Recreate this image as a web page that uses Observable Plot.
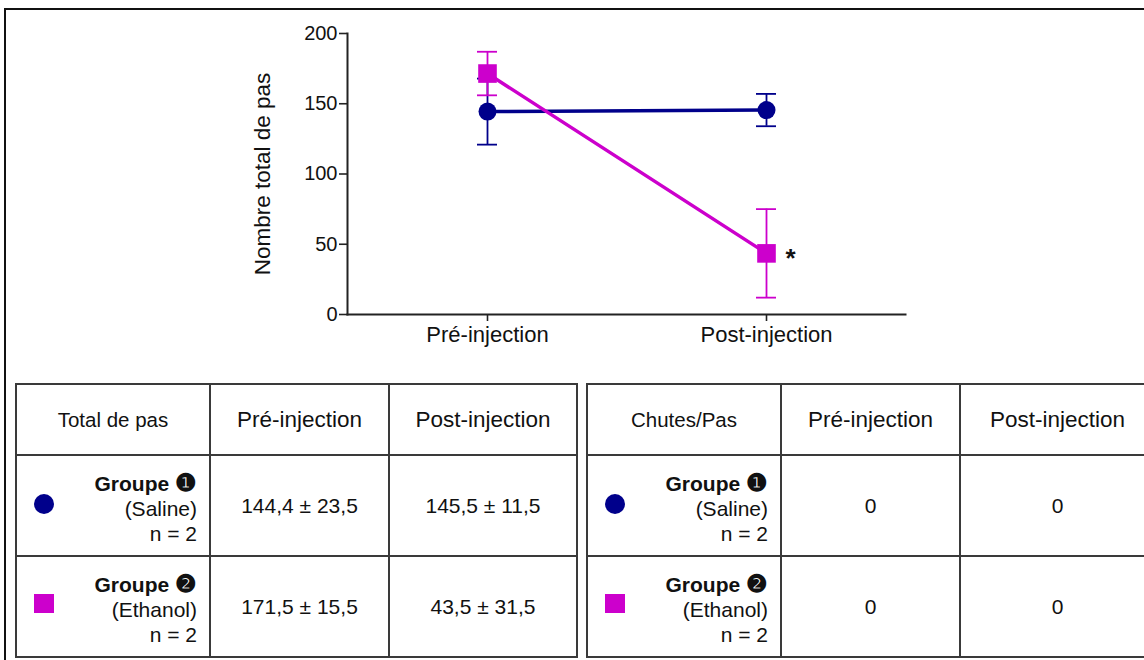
<!DOCTYPE html>
<html>
<head>
<meta charset="utf-8">
<script src="https://cdn.jsdelivr.net/npm/d3@7"></script>
<script src="https://cdn.jsdelivr.net/npm/@observablehq/plot@0.6"></script>
<style>
  html, body { margin: 0; padding: 0; background: #fff; }
  body { width: 1144px; height: 660px; position: relative; overflow: hidden;
         font-family: "Liberation Sans", Arial, sans-serif; color: #111; }
  #frame { position: absolute; left: 4px; top: 8px; width: 1300px; height: 800px;
           border-top: 2.5px solid #111; border-left: 2px solid #111; }
  #chart { position: absolute; left: 0; top: 0; }
  table { position: absolute; border-collapse: collapse; table-layout: fixed; }
  td { border: 2px solid #3a3a3a; padding: 0; text-align: center; vertical-align: middle; }
  .hdr td { height: 69px; font-size: 22.5px; }
  .hdr td.first { font-size: 20.5px; }
  .row td { height: 99px; font-size: 21px; }
  .grp { position: relative; height: 99px; }
  .grp .lab { position: absolute; right: 12px; top: 14px; text-align: right; line-height: 25px; font-size: 21px; white-space: nowrap; }
  .grp .lab b { font-size: 21px; }
  .grp .lab .num { font-size: 24px; font-weight: bold; }
  .mk { position: absolute; left: 17px; }
</style>
</head>
<body>
<div id="frame"></div>
<div id="chart"></div>
<table id="t1" style="left:15px; top:383px; width:563px;"></table>
<table id="t2" style="left:586px; top:383px; width:570px;"></table>
<script>
// ---- data ----
const phases = ["Pré-injection", "Post-injection"];
const groups = ["Saline", "Ethanol"];
const groupNums = ["❶", "❷"];
const groupN = [2, 2];
const salineMean = [144.4, 145.5];
const salineSem = [23.5, 11.5];
const ethanolMean = [171.5, 43.5];
const ethanolSem = [15.5, 31.5];
const chutesSaline = [0, 0];
const chutesEthanol = [0, 0];
const yTicks = [0, 50, 100, 150, 200];
const colors = ["#00008b", "#cc00cc"];

const rows = [];
phases.forEach((p, i) => {
  rows.push({phase: p, group: "Saline", mean: salineMean[i], sem: salineSem[i]});
  rows.push({phase: p, group: "Ethanol", mean: ethanolMean[i], sem: ethanolSem[i]});
});
rows.forEach(d => { d.lo = d.mean - d.sem; d.hi = d.mean + d.sem; });
const sal = rows.filter(d => d.group === "Saline");
const eth = rows.filter(d => d.group === "Ethanol");
const star = eth.filter(d => d.phase === "Post-injection");

function groupMarks(data, symbol, r) {
  return [
    Plot.line(data, {x: "phase", y: "mean", stroke: "group", strokeWidth: 3.5}),
    Plot.ruleX(data, {x: "phase", y1: "lo", y2: "hi", stroke: "group", strokeWidth: 1.8}),
    Plot.ruleY(data, {x1: "phase", x2: "phase", y: "lo", stroke: "group", strokeWidth: 1.8, insetLeft: -10, insetRight: -10}),
    Plot.ruleY(data, {x1: "phase", x2: "phase", y: "hi", stroke: "group", strokeWidth: 1.8, insetLeft: -10, insetRight: -10}),
    Plot.dot(data, {x: "phase", y: "mean", fill: "group", symbol, r})
  ];
}

const chart = Plot.plot({
  width: 1144,
  height: 360,
  marginLeft: 347,
  marginRight: 239,
  marginTop: 33,
  marginBottom: 46,
  style: {fontFamily: "'Liberation Sans', Arial, sans-serif", color: "#111", background: "transparent", overflow: "visible"},
  x: {type: "point", domain: phases, padding: 0.5},
  y: {domain: [0, 200]},
  color: {domain: groups, range: colors},
  marks: [
    Plot.frame({anchor: "left", stroke: "#222", strokeWidth: 2}),
    Plot.frame({anchor: "bottom", stroke: "#222", strokeWidth: 2}),
    Plot.axisY({ticks: yTicks, tickSize: 8, tickPadding: 2, fontSize: 20, label: null, strokeWidth: 1.6, stroke: "#222"}),
    Plot.axisX({tickSize: 7, tickPadding: 5, fontSize: 22, label: null, strokeWidth: 1.6, stroke: "#222"}),
    Plot.text(["Nombre total de pas"], {frameAnchor: "left", textAnchor: "middle", dx: -85, rotate: -90, fontSize: 22.5, fill: "#111"}),
    ...groupMarks(sal, "circle", 9),
    ...groupMarks(eth, "square", 10.5),
    Plot.text(star, {x: "phase", y: "mean", text: () => "*", dx: 24, dy: 5, fontSize: 26, fontWeight: "bold", fill: "#111"})
  ]
});
document.getElementById("chart").appendChild(chart);

// ---- tables ----
const fmt = v => String(v).replace(".", ",");
function marker(i) {
  return i === 0
    ? `<div class="mk" style="top:38px;width:20px;height:20px;border-radius:50%;background:${colors[0]}"></div>`
    : `<div class="mk" style="top:37px;width:20px;height:19px;background:${colors[1]}"></div>`;
}
function groupCell(i) {
  return `<td><div class="grp">${marker(i)}<div class="lab"><b>Groupe</b> <span class="num">${groupNums[i]}</span><br>(${groups[i]})<br>n = ${groupN[i]}</div></div></td>`;
}
function buildTable(el, title, cells, widths) {
  let h = `<colgroup>${widths.map(w => `<col style="width:${w}px">`).join("")}</colgroup>`;
  h += `<tr class="hdr"><td class="first">${title}</td>${phases.map(p => `<td>${p}</td>`).join("")}</tr>`;
  cells.forEach((vals, i) => {
    h += `<tr class="row">${groupCell(i)}${vals.map(v => `<td>${v}</td>`).join("")}</tr>`;
  });
  el.innerHTML = h;
}
buildTable(document.getElementById("t1"), "Total de pas", [
  salineMean.map((m, i) => `${fmt(m)} ± ${fmt(salineSem[i])}`),
  ethanolMean.map((m, i) => `${fmt(m)} ± ${fmt(ethanolSem[i])}`)
], [194, 179, 188]);
buildTable(document.getElementById("t2"), "Chutes/Pas", [
  chutesSaline.map(String),
  chutesEthanol.map(String)
], [194, 179, 195]);
</script>
</body>
</html>
